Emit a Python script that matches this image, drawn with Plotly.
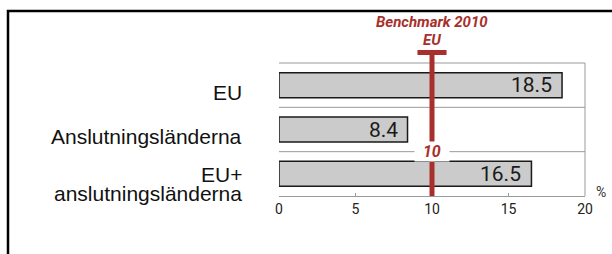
import plotly.graph_objects as go

categories = ["EU", "Anslutningsländerna", "EU+ anslutningsländerna"]
label_lines = [["EU"], ["Anslutningsländerna"], ["EU+", "anslutningsländerna"]]
values = [18.5, 8.4, 16.5]
value_labels = ["18.5", "8.4", "16.5"]
benchmark = 10
benchmark_title = ["Benchmark 2010", "EU"]
x_ticks = [0, 5, 10, 15, 20]
unit_label = "%"

RED = "#a8302c"
GRID = "#9a9a9a"

W, H = 612, 254
L, R, T, B = 279, 27, 63, 58
pw, ph = W - L - R, H - T - B


def px_x(p):
    return (p - L) / pw


def px_y(p):
    return (H - B - p) / ph


ypos = list(range(len(categories)))

fig = go.Figure()
fig.add_trace(go.Bar(
    x=values, y=ypos, orientation="h", width=0.565,
    marker=dict(color="#cbcbcb", line=dict(color="#1a1a1a", width=1.5)),
    hoverinfo="skip", showlegend=False,
))

shapes = []
# plot box: top, right and category separators
shapes.append(dict(type="line", xref="paper", yref="paper", x0=0, x1=1, y0=1, y1=1,
                   line=dict(color=GRID, width=1), layer="below"))
shapes.append(dict(type="line", xref="paper", yref="paper", x0=1, x1=1, y0=0, y1=1,
                   line=dict(color=GRID, width=1), layer="below"))
for b in [0.5, 1.5]:
    shapes.append(dict(type="line", xref="paper", yref="y", x0=0, x1=1, y0=b, y1=b,
                       line=dict(color=GRID, width=1), layer="below"))
# benchmark line with T cap
shapes.append(dict(type="line", xref="x", yref="paper", x0=benchmark, x1=benchmark,
                   y0=0, y1=px_y(50), line=dict(color=RED, width=5), layer="above"))
shapes.append(dict(type="line", xref="x", yref="paper", x0=benchmark - 0.95, x1=benchmark + 0.95,
                   y0=px_y(52.5), y1=px_y(52.5), line=dict(color=RED, width=5), layer="above"))
# outer frame
fx, fy = px_x(8), px_y(11)
shapes.append(dict(type="path", xref="paper", yref="paper",
                   path=f"M {fx},{px_y(270)} L {fx},{fy} L {px_x(620)},{fy}",
                   line=dict(color="black", width=2.5)))

annotations = []
lab_font = dict(family="Liberation Sans, Arial, sans-serif", size=21, color="#111")
for i, lines in enumerate(label_lines):
    if len(lines) == 1:
        annotations.append(dict(text=lines[0], xref="paper", yref="y", x=px_x(244), y=i,
                                xanchor="right", yanchor="middle", yshift=-7,
                                showarrow=False, font=lab_font))
    else:
        annotations.append(dict(text=lines[0], xref="paper", yref="y", x=px_x(244), y=i,
                                xanchor="right", yanchor="middle", yshift=-1,
                                showarrow=False, font=lab_font))
        annotations.append(dict(text=lines[1], xref="paper", yref="y", x=px_x(244), y=i,
                                xanchor="right", yanchor="middle", yshift=-20,
                                showarrow=False, font=lab_font))

val_font = dict(family="Roboto, sans-serif", size=21, color="#1a1a1a")
for i, (v, t) in enumerate(zip(values, value_labels)):
    annotations.append(dict(text=t, xref="x", yref="y", x=v, y=i, xanchor="right",
                            yanchor="middle", xshift=-8, showarrow=False, font=val_font))

bm_font = dict(family="Roboto, sans-serif", size=15, color=RED)
annotations.append(dict(text=f"<b><i>{benchmark_title[0]}</i></b>", xref="x", yref="paper",
                        x=benchmark, y=px_y(22), xanchor="center", yanchor="middle",
                        showarrow=False, font=bm_font))
annotations.append(dict(text=f"<b><i>{benchmark_title[1]}</i></b>", xref="x", yref="paper",
                        x=benchmark, y=px_y(40), xanchor="center", yanchor="middle",
                        showarrow=False, font=bm_font))
annotations.append(dict(text=f"<b><i>&nbsp;&nbsp;{benchmark}&nbsp;&nbsp;</i></b>", xref="x", yref="y",
                        x=benchmark, y=1.5, xanchor="center", yanchor="middle",
                        showarrow=False, bgcolor="white", borderpad=0,
                        font=dict(family="Roboto, sans-serif", size=16, color=RED)))
annotations.append(dict(text=unit_label, xref="paper", yref="paper", x=px_x(601), y=px_y(192),
                        xanchor="center", yanchor="middle", showarrow=False,
                        font=dict(family="Roboto, sans-serif", size=14, color="#333")))

fig.update_layout(
    width=W, height=H,
    margin=dict(l=L, r=R, t=T, b=B, pad=0),
    paper_bgcolor="white", plot_bgcolor="white",
    shapes=shapes, annotations=annotations,
    xaxis=dict(range=[0, 20], tickvals=x_ticks, ticktext=[str(t) for t in x_ticks],
               showgrid=False, zeroline=False, showline=True, linecolor=GRID, linewidth=1,
               ticks="inside", ticklen=3, tickcolor=GRID,
               tickfont=dict(family="Roboto, sans-serif", size=14, color="#222"),
               fixedrange=True),
    yaxis=dict(range=[len(categories) - 0.5, -0.5], showticklabels=False, showgrid=False,
               zeroline=False, showline=False, ticks="", fixedrange=True),
)

fig.write_html("out.html", config={"displayModeBar": False},
               post_script="document.body.style.margin='0';document.body.style.overflow='hidden';")
